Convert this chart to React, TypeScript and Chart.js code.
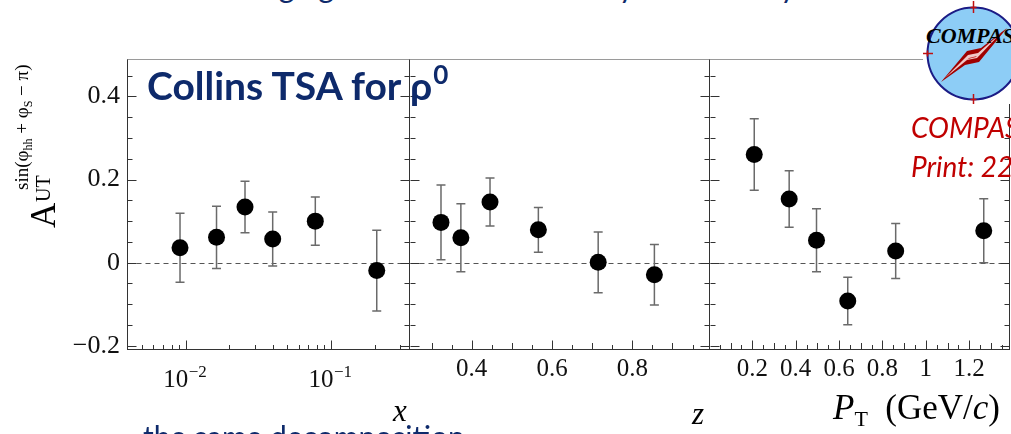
import React, { useEffect, useRef } from "react";
import { Chart, registerables } from "chart.js";
Chart.register(...registerables);

// ---------- data ----------
const xBins = [0.00914, 0.0163, 0.0256, 0.0397, 0.078, 0.2065];
const xAsym = [0.036, 0.061, 0.134, 0.057, 0.1, -0.019];
const xErr = [0.083, 0.075, 0.062, 0.065, 0.058, 0.097];

const zBins = [0.3235, 0.373, 0.4456, 0.566, 0.715, 0.855];
const zAsym = [0.097, 0.06, 0.146, 0.079, 0.001, -0.029];
const zErr = [0.09, 0.082, 0.058, 0.054, 0.073, 0.073];

const ptBins = [0.209, 0.37, 0.496, 0.64, 0.861, 1.267];
const ptAsym = [0.26, 0.153, 0.054, -0.092, 0.028, 0.077];
const ptErr = [0.086, 0.068, 0.076, 0.057, 0.066, 0.077];

// ---------- ticks ----------
const yTickValues = [-0.2, 0, 0.2, 0.4];
const yTickLabels = ["\u22120.2", "0", "0.2", "0.4"];
const yMinorTicks = [-0.15, -0.1, -0.05, 0.05, 0.1, 0.15, 0.25, 0.3, 0.35, 0.45];

const xTickValues = [0.01, 0.1];
const xTickBases = ["10", "10"];
const xTickExponents = ["\u22122", "\u22121"];
const xMinorTicks = [0.004, 0.005, 0.006, 0.007, 0.008, 0.009, 0.02, 0.03, 0.04, 0.05, 0.06, 0.07, 0.08, 0.09, 0.2, 0.3];

const zTickValues = [0.4, 0.6, 0.8];
const zTickLabels = ["0.4", "0.6", "0.8"];
const zMidTicks = [0.3, 0.5, 0.7, 0.9];
const zMinorTicks = [0.35, 0.45, 0.55, 0.65, 0.75, 0.85, 0.95];

const ptTickValues = [0.2, 0.4, 0.6, 0.8, 1.0, 1.2];
const ptTickLabels = ["0.2", "0.4", "0.6", "0.8", "1", "1.2"];
const ptMidTicks = [0.1, 0.3, 0.5, 0.7, 0.9, 1.1, 1.3];
const ptMinorTicks = [0.05, 0.15, 0.25, 0.35, 0.45, 0.55, 0.65, 0.75, 0.85, 0.95, 1.05, 1.15, 1.25, 1.35];

const Y_MIN = -0.21;
const Y_MAX = 0.49;

const NAVY = "#0e2a6b";
const SERIF = "'Liberation Serif', 'Times New Roman', serif";

// ---------- plugin: frame, inward ticks, zero line, error bars ----------
const panelDecor = {
  id: "panelDecor",
  beforeDatasetsDraw(chart: any, _a: any, o: any) {
    const { ctx, chartArea: a, scales } = chart;
    const xs = scales.x;
    const ys = scales.y;
    const L = Math.round(a.left) + 0.5;
    const R = Math.round(a.right) - 0.5;
    const T = Math.round(a.top) + 0.5;
    const B = Math.round(a.bottom) - 0.5;
    ctx.save();
    // zero line
    const y0 = Math.round(ys.getPixelForValue(0)) + 0.5;
    ctx.strokeStyle = "#555";
    ctx.lineWidth = 1;
    ctx.setLineDash([5, 4]);
    ctx.beginPath();
    ctx.moveTo(L, y0);
    ctx.lineTo(R, y0);
    ctx.stroke();
    ctx.setLineDash([]);
    // frame
    ctx.strokeStyle = "#9a9a9a";
    ctx.beginPath();
    ctx.moveTo(a.left, T);
    ctx.lineTo(a.right, T);
    ctx.stroke();
    ctx.strokeStyle = "#333";
    ctx.beginPath();
    if (o.drawLeft) {
      ctx.moveTo(L, T);
      ctx.lineTo(L, B);
    }
    ctx.moveTo(R, T);
    ctx.lineTo(R, B);
    ctx.moveTo(a.left, B);
    ctx.lineTo(a.right, B);
    ctx.stroke();
    // y ticks on both sides
    ctx.beginPath();
    const yGroups = [
      { v: yTickValues, len: 9 },
      { v: yMinorTicks, len: 5 },
    ];
    yGroups.forEach((g) =>
      g.v.forEach((v: number) => {
        const py = Math.round(ys.getPixelForValue(v)) + 0.5;
        ctx.moveTo(L, py);
        ctx.lineTo(L + g.len, py);
        ctx.moveTo(R, py);
        ctx.lineTo(R - g.len, py);
      })
    );
    // x ticks
    o.xTicks.forEach((g: any) =>
      g.v.forEach((v: number) => {
        const px = xs.getPixelForValue(v);
        if (px <= a.left + 1 || px >= a.right - 1) return;
        const x = Math.round(px) + 0.5;
        ctx.moveTo(x, B);
        ctx.lineTo(x, B - g.len);
      })
    );
    ctx.stroke();
    // error bars
    ctx.strokeStyle = "#6a6a6a";
    ctx.lineWidth = 1.5;
    ctx.beginPath();
    o.bins.forEach((b: number, i: number) => {
      const x = xs.getPixelForValue(b);
      const yt = ys.getPixelForValue(o.vals[i] + o.errs[i]);
      const yb = ys.getPixelForValue(o.vals[i] - o.errs[i]);
      ctx.moveTo(x, yt);
      ctx.lineTo(x, yb);
      ctx.moveTo(x - 4.5, yt);
      ctx.lineTo(x + 4.5, yt);
      ctx.moveTo(x - 4.5, yb);
      ctx.lineTo(x + 4.5, yb);
    });
    ctx.stroke();
    ctx.restore();
  },
  afterDraw(chart: any, _a: any, o: any) {
    // power-of-ten labels (base + raised exponent) for the log axis
    if (!o.powerLabels) return;
    const { ctx, scales } = chart;
    const xs = scales.x;
    ctx.save();
    ctx.fillStyle = "#111";
    ctx.textBaseline = "alphabetic";
    o.powerLabels.values.forEach((v: number, i: number) => {
      const px = xs.getPixelForValue(v);
      ctx.font = `25px ${SERIF}`;
      const wb = ctx.measureText(o.powerLabels.bases[i]).width;
      ctx.font = `17px ${SERIF}`;
      const we = ctx.measureText(o.powerLabels.exps[i]).width;
      const x0 = px - (wb + we) / 2 - 1;
      ctx.font = `25px ${SERIF}`;
      ctx.fillText(o.powerLabels.bases[i], x0, 387);
      ctx.font = `17px ${SERIF}`;
      ctx.fillText(o.powerLabels.exps[i], x0 + wb + 0.5, 377);
    });
    ctx.restore();
  },
};

type Spec = {
  bins: number[];
  vals: number[];
  errs: number[];
  xType: string;
  xMin: number;
  xMax: number;
  xTickValues: number[];
  xTickLabels: string[];
  xTicks: { v: number[]; len: number }[];
  yAxis: boolean;
  labelPad: number;
  powerLabels?: { values: number[]; bases: string[]; exps: string[] };
};

function makeConfig(p: Spec): any {
  return {
    type: "scatter",
    data: {
      datasets: [
        {
          data: p.bins.map((b, i) => ({ x: b, y: p.vals[i] })),
          pointRadius: 8.5,
          pointHoverRadius: 8.5,
          backgroundColor: "#000",
          borderColor: "#000",
          borderWidth: 0,
        },
      ],
    },
    options: {
      animation: false,
      responsive: false,
      maintainAspectRatio: false,
      devicePixelRatio: 1,
      events: [],
      layout: { autoPadding: false, padding: { top: 59, right: 1, left: 0, bottom: 0 } },
      plugins: {
        legend: { display: false },
        tooltip: { enabled: false },
        panelDecor: {
          bins: p.bins,
          vals: p.vals,
          errs: p.errs,
          xTicks: p.xTicks,
          drawLeft: p.yAxis,
          powerLabels: p.powerLabels,
        },
      },
      scales: {
        x: {
          type: p.xType,
          min: p.xMin,
          max: p.xMax,
          bounds: "data",
          afterFit: (s: any) => {
            s.height = 84;
          },
          afterBuildTicks: (s: any) => {
            s.ticks = p.xTickValues.map((v) => ({ value: v }));
          },
          grid: { display: false, drawTicks: false },
          border: { display: false },
          ticks: {
            display: !p.powerLabels,
            autoSkip: false,
            maxRotation: 0,
            minRotation: 0,
            padding: p.labelPad,
            color: "#111",
            font: { family: SERIF, size: 25 },
            callback: (_v: any, i: number) => p.xTickLabels[i],
          },
        },
        y: {
          type: "linear",
          min: Y_MIN,
          max: Y_MAX,
          display: p.yAxis,
          afterFit: (s: any) => {
            s.width = p.yAxis ? 127 : 0;
          },
          afterBuildTicks: (s: any) => {
            s.ticks = yTickValues.map((v) => ({ value: v }));
          },
          grid: { display: false, drawTicks: false },
          border: { display: false },
          ticks: {
            padding: 7,
            color: "#111",
            font: { family: SERIF, size: 26 },
            callback: (_v: any, i: number) => yTickLabels[i],
          },
        },
      },
    },
    plugins: [panelDecor],
  };
}

function Panel({ left, width, spec }: { left: number; width: number; spec: Spec }) {
  const ref = useRef<HTMLCanvasElement>(null);
  useEffect(() => {
    const chart = new Chart(ref.current as HTMLCanvasElement, makeConfig(spec));
    return () => chart.destroy();
  }, []);
  return (
    <canvas
      ref={ref}
      width={width}
      height={434}
      style={{ position: "absolute", left, top: 0, width, height: 434 }}
    />
  );
}

// text placed by baseline: k = baseline offset ratio for line-height 1
function Txt({
  x,
  base,
  size,
  k,
  style,
  children,
}: {
  x: number;
  base: number;
  size: number;
  k: number;
  style?: any;
  children: any;
}) {
  return (
    <div
      style={{
        position: "absolute",
        left: x,
        top: base - k * size,
        fontSize: size,
        lineHeight: 1,
        whiteSpace: "nowrap",
        ...style,
      }}
    >
      {children}
    </div>
  );
}

const KS = 0.8375; // Liberation Serif
const KL = 0.887; // Lato

const specX: Spec = {
  bins: xBins,
  vals: xAsym,
  errs: xErr,
  xType: "logarithmic",
  xMin: 0.003945,
  xMax: 0.3498,
  xTickValues,
  xTickLabels: ["", ""],
  xTicks: [
    { v: xTickValues, len: 9 },
    { v: xMinorTicks, len: 4.5 },
  ],
  yAxis: true,
  labelPad: 12,
  powerLabels: { values: xTickValues, bases: xTickBases, exps: xTickExponents },
};
const specZ: Spec = {
  bins: zBins,
  vals: zAsym,
  errs: zErr,
  xType: "linear",
  xMin: 0.2463,
  xMax: 0.9935,
  xTickValues: zTickValues,
  xTickLabels: zTickLabels,
  xTicks: [
    { v: zTickValues, len: 9 },
    { v: zMidTicks, len: 6.5 },
    { v: zMinorTicks, len: 4.5 },
  ],
  yAxis: false,
  labelPad: 4,
};
const specPT: Spec = {
  bins: ptBins,
  vals: ptAsym,
  errs: ptErr,
  xType: "linear",
  xMin: 0.005,
  xMax: 1.388,
  xTickValues: ptTickValues,
  xTickLabels: ptTickLabels,
  xTicks: [
    { v: ptTickValues, len: 9 },
    { v: ptMidTicks, len: 6.5 },
    { v: ptMinorTicks, len: 4.5 },
  ],
  yAxis: false,
  labelPad: 4,
};

function Logo() {
  const cx = 50.5;
  const cy = 53.5;
  return (
    <svg
      width={88}
      height={104}
      style={{ position: "absolute", left: 923, top: 0 }}
      viewBox="0 0 88 104"
    >
      <rect x={0} y={0} width={88} height={104} fill="#fff" />
      <circle cx={cx} cy={cy} r={46} fill="#8dcdf6" stroke="#1b1b85" strokeWidth={2} />
      <g stroke="#c01010" strokeWidth={1.5}>
        <line x1={cx} y1={1} x2={cx} y2={13} />
        <line x1={cx - 3} y1={7.5} x2={cx + 3} y2={7.5} />
        <line x1={-2} y1={cy} x2={10} y2={cy} />
        <line x1={4.5} y1={cy - 3} x2={4.5} y2={cy + 3} />
        <line x1={cx} y1={94} x2={cx} y2={104} />
        <line x1={cx - 3} y1={99.5} x2={cx + 3} y2={99.5} />
      </g>
      {/* needle: lightning-like, dark red with pink highlight */}
      <polygon points="18,82 44,51 58,48 84,28 56,62 42,65" fill="#a00000" />
      <polygon points="22,78 45,55 55,53 78,33 54,58 44,60" fill="#f0c8c8" />
      <polygon points="30,72 46,58 54,56 70,40 53,57 45,59" fill="#c41a1a" />
      <text
        x={3}
        y={43}
        fontFamily={SERIF}
        fontWeight="bold"
        fontStyle="italic"
        fontSize={22}
        fill="#000"
      >
        COMPASS
      </text>
    </svg>
  );
}

export default function App() {
  return (
    <div
      style={{
        position: "fixed",
        left: 0,
        top: 0,
        width: 1011,
        height: 434,
        overflow: "hidden",
        background: "#fff",
      }}
    >
      {/* cut-off slide text at top */}
      <Txt x={216} base={-2} size={30} k={KL} style={{ fontFamily: "Lato", color: NAVY }}>
        changing
      </Txt>
      <Txt x={578} base={-2} size={30} k={KL} style={{ fontFamily: "Lato", color: NAVY }}>
        only
      </Txt>
      <Txt x={723} base={-2} size={30} k={KL} style={{ fontFamily: "Lato", color: NAVY }}>
        study
      </Txt>

      <Panel left={0} width={411} spec={specX} />
      <Panel left={410} width={301} spec={specZ} />
      <Panel left={710} width={301} spec={specPT} />

      {/* title */}
      <Txt
        x={147}
        base={101}
        size={39}
        k={KL}
        style={{ fontFamily: "Lato", fontWeight: 700, color: NAVY }}
      >
        Collins TSA for ρ
        <span style={{ fontSize: 26, position: "relative", top: -16, marginLeft: 1 }}>0</span>
      </Txt>

      {/* y axis title (rotated) */}
      <div
        style={{
          position: "absolute",
          left: 0,
          top: 235,
          width: 200,
          height: 70,
          transform: "rotate(-90deg)",
          transformOrigin: "0 0",
          fontFamily: SERIF,
          color: "#000",
        }}
      >
        <Txt x={7} base={55} size={35} k={KS}>
          A
        </Txt>
        <Txt x={33} base={50} size={20} k={KS}>
          UT
        </Txt>
        <Txt x={45} base={28} size={19} k={KS}>
          sin(φ
          <span style={{ fontSize: 12, position: "relative", top: 4 }}>hh</span>
          {" + φ"}
          <span style={{ fontSize: 12, position: "relative", top: 4 }}>S</span>
          {" \u2212 π)"}
        </Txt>
      </div>

      {/* x axis titles */}
      <Txt x={393} base={421} size={31} k={KS} style={{ fontFamily: SERIF, fontStyle: "italic" }}>
        x
      </Txt>
      <Txt x={692} base={424} size={31} k={KS} style={{ fontFamily: SERIF, fontStyle: "italic" }}>
        z
      </Txt>
      <Txt x={833} base={419} size={35} k={KS} style={{ fontFamily: SERIF }}>
        <i>P</i>
        <span style={{ fontSize: 22, position: "relative", top: 7 }}>T</span>
        {"\u00A0\u00A0(GeV/"}
        <i>c</i>)
      </Txt>

      {/* cut-off slide text at bottom */}
      <Txt x={143} base={448} size={30} k={KL} style={{ fontFamily: "Lato", color: NAVY }}>
        the same decomposition
      </Txt>

      <Logo />

      {/* red annotation */}
      <Txt
        x={911}
        base={138}
        size={28}
        k={KL}
        style={{ fontFamily: "Lato", fontStyle: "italic", color: "#c00000" }}
      >
        COMPASS
      </Txt>
      <Txt
        x={911}
        base={177}
        size={28}
        k={KL}
        style={{ fontFamily: "Lato", fontStyle: "italic", color: "#c00000" }}
      >
        Print: 22
      </Txt>
    </div>
  );
}
